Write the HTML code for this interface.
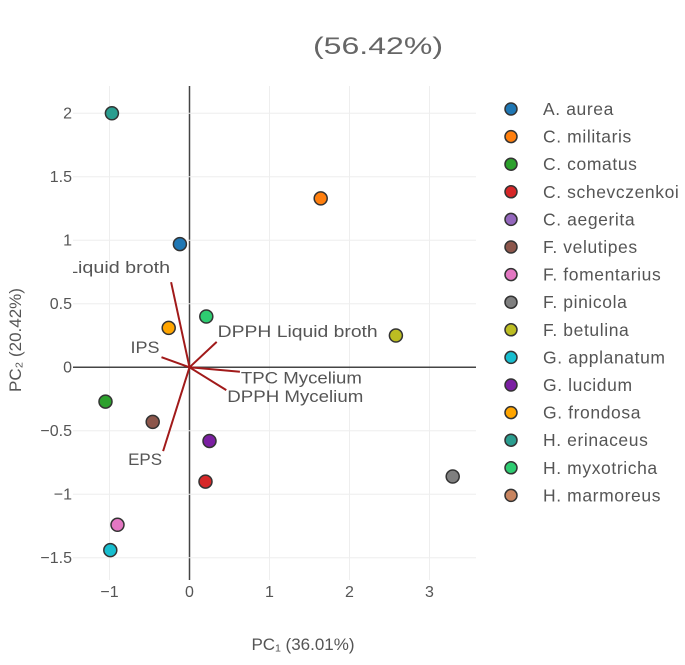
<!DOCTYPE html>
<html><head><meta charset="utf-8"><style>
body{margin:0;background:#fff;font-family:"Liberation Sans",sans-serif;}
svg text{font-family:"Liberation Sans",sans-serif;}
</style></head><body>
<svg id="c" width="685" height="660" xmlns="http://www.w3.org/2000/svg">
<defs><clipPath id="pc"><rect x="73" y="86" width="403" height="494"/></clipPath></defs>
<text x="378" y="54" font-size="24" fill="#666" text-anchor="middle" textLength="130" lengthAdjust="spacingAndGlyphs">(56.42%)</text>
<g id="grid"></g><g id="plot" clip-path="url(#pc)"></g><g id="ticks"></g><g id="legend"></g>
<text x="303" y="650" font-size="17" fill="#555" text-anchor="middle">PC₁ (36.01%)</text>
<text transform="translate(21,340) rotate(-90)" font-size="17" fill="#555" text-anchor="middle">PC₂ (20.42%)</text>
</svg>
<script>
const names=["A. aurea","C. militaris","C. comatus","C. schevczenkoi","C. aegerita","F. velutipes","F. fomentarius","F. pinicola","F. betulina","G. applanatum","G. lucidum","G. frondosa","H. erinaceus","H. myxotricha","H. marmoreus"];
const colors=["#1f77b4","#ff7f0e","#2ca02c","#d62728","#9467bd","#8c564b","#e377c2","#7f7f7f","#bcbd22","#17becf","#7b1fa2","#ffa500","#2a9d8f","#2ecc71","#c8845f"];
const pc1=[-0.12,1.64,-1.05,0.2,null,-0.46,-0.9,3.29,2.58,-0.99,0.25,-0.26,-0.97,0.21,null];
const pc2=[0.97,1.33,-0.27,-0.9,null,-0.43,-1.24,-0.86,0.25,-1.44,-0.58,0.31,2.0,0.40,null];
const loadNames=["Liquid broth","DPPH Liquid broth","IPS","TPC Mycelium","DPPH Mycelium","EPS"];
const loadX=[-0.23,0.34,-0.35,0.63,0.46,-0.33];
const loadY=[0.67,0.20,0.08,-0.035,-0.18,-0.66];
const xTicks=[-1,0,1,2,3];
const yTicks=[-1.5,-1,-0.5,0,0.5,1,1.5,2];
const yTickLabels=["−1.5","−1","−0.5","0","0.5","1","1.5","2"];
const xTickLabels=["−1","0","1","2","3"];
const X=v=>189.5+v*80, Y=v=>367.3-v*127;
const NS="http://www.w3.org/2000/svg";
function mk(t,a,p){const e=document.createElementNS(NS,t);for(const k in a)e.setAttribute(k,a[k]);p.appendChild(e);return e;}
const grid=document.getElementById('grid'),plot=document.getElementById('plot'),ticks=document.getElementById('ticks'),leg=document.getElementById('legend');
xTicks.forEach((v,i)=>{const l=mk('line',{x1:X(v),x2:X(v),y1:86,y2:580,stroke:v===0?'#444':'#eee','stroke-width':v===0?1.5:1},grid);

const t=mk('text',{x:X(v),y:597,'font-size':16,fill:'#555','text-anchor':'middle'},ticks);t.textContent=xTickLabels[i];
});
yTicks.forEach((v,i)=>{const l=mk('line',{x1:73,x2:476,y1:Y(v),y2:Y(v),stroke:v===0?'#444':'#eee','stroke-width':v===0?1.5:1},grid);

const t=mk('text',{x:72,y:Y(v)+5,'font-size':16,fill:'#555','text-anchor':'end'},ticks);t.textContent=yTickLabels[i];
});
// label placement: [anchor, dx, dy, textLength]
const anchors=[['end',-1,-9,103],['start',1,-5,160],['end',-2,-4,29],['start',1,12,121],['start',1,12,136],['end',-1,14,34]];
loadNames.forEach((n,i)=>{const l=mk('line',{x1:X(0),y1:Y(0),x2:X(loadX[i]),y2:Y(loadY[i]),stroke:'#a11a1a','stroke-width':2},plot);

const a=anchors[i];const t=mk('text',{x:X(loadX[i])+a[1],y:Y(loadY[i])+a[2],'font-size':17,fill:'#555','text-anchor':a[0],textLength:a[3],lengthAdjust:'spacingAndGlyphs'},plot);t.textContent=n;
});
names.forEach((n,i)=>{if(pc1[i]!=null){const c=mk('circle',{cx:X(pc1[i]),cy:Y(pc2[i]),r:6.5,fill:colors[i],stroke:'#333','stroke-width':1.5},plot);
}
const y=109+i*27.6;
const m=mk('circle',{cx:511,cy:y,r:6,fill:colors[i],stroke:'#333','stroke-width':1.5},leg);

const t=mk('text',{x:543,y:y+6,'font-size':17.5,fill:'#555','letter-spacing':0.6},leg);t.textContent=n;
});
</script>
</body></html>
